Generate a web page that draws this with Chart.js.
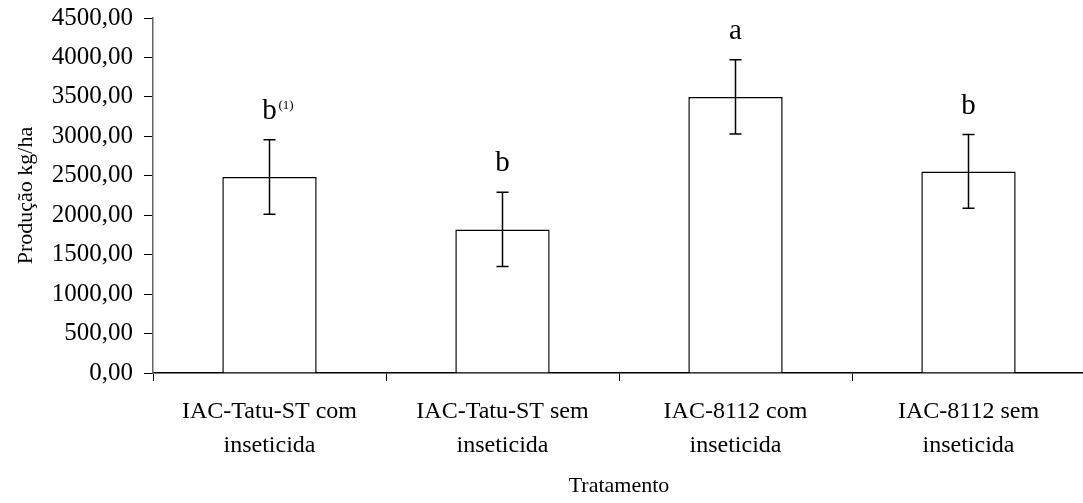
<!DOCTYPE html>
<html>
<head>
<meta charset="utf-8">
<script src="https://cdn.jsdelivr.net/npm/chart.js@4"></script>
<style>
  body { margin: 0; background: #fff; }
  #wrap { width: 1083px; height: 503px; overflow: hidden; }
</style>
</head>
<body>
<div id="wrap"><canvas id="grafico" width="1085" height="503"></canvas></div>
<script>
const tratamentos = [
    ['IAC-Tatu-ST com', 'inseticida'],
    ['IAC-Tatu-ST sem', 'inseticida'],
    ['IAC-8112 com', 'inseticida'],
    ['IAC-8112 sem', 'inseticida']
];
const producao = [2485, 1820, 3500, 2555];
const erro = [473, 471, 471, 467];
const letras = ['b', 'b', 'a', 'b'];
const notas = ['(1)', '', '', ''];
const fonte = "'Liberation Serif', 'Times New Roman', serif";

// barras de erro + letras do teste
const barrasErro = {
    id: 'barrasErro',
    afterDatasetsDraw(chart) {
        const ctx = chart.ctx;
        const y = chart.scales.y;
        const barras = chart.getDatasetMeta(0).data;
        ctx.save();
        ctx.strokeStyle = '#000';
        ctx.lineWidth = 1.5;
        barras.forEach((barra, i) => {
            const x = barra.x;
            const topo = y.getPixelForValue(producao[i] + erro[i]);
            const base = y.getPixelForValue(producao[i] - erro[i]);
            ctx.beginPath();
            ctx.moveTo(x, topo); ctx.lineTo(x, base);
            ctx.moveTo(x - 6, topo); ctx.lineTo(x + 6, topo);
            ctx.moveTo(x - 6, base); ctx.lineTo(x + 6, base);
            ctx.stroke();

            ctx.fillStyle = '#000';
            ctx.font = '29px ' + fonte;
            ctx.textBaseline = 'alphabetic';
            ctx.textAlign = 'center';
            ctx.fillText(letras[i], x, topo - 21);
            if (notas[i]) {
                ctx.font = '13px ' + fonte;
                ctx.textAlign = 'left';
                ctx.fillText(notas[i], x + 9, topo - 31);
            }
        });
        ctx.restore();
    }
};

new Chart(document.getElementById('grafico'), {
    type: 'bar',
    data: {
        labels: tratamentos,
        datasets: [{
            data: producao,
            backgroundColor: '#fff',
            borderColor: '#000',
            borderWidth: 1.5,
            categoryPercentage: 1,
            barPercentage: 0.405
        }]
    },
    options: {
        responsive: false,
        animation: false,
        devicePixelRatio: 1,
        layout: { padding: { top: 18, right: 0, left: 0, bottom: 0 } },
        plugins: {
            legend: { display: false },
            tooltip: { enabled: false }
        },
        scales: {
            x: {
                grid: { drawOnChartArea: false, tickLength: 8, color: '#000', offset: true },
                border: { color: '#000', width: 1.5 },
                ticks: {
                    color: '#000',
                    font: { family: fonte, size: 24, lineHeight: 1.42 },
                    padding: 14,
                    maxRotation: 0,
                    autoSkip: false
                },
                title: {
                    display: true,
                    text: 'Tratamento',
                    color: '#000',
                    font: { family: fonte, size: 22 },
                    padding: { top: 0, bottom: 4 }
                },
                afterFit(s) { s.height = 130; }
            },
            y: {
                min: 0,
                max: 4500,
                ticks: {
                    stepSize: 500,
                    color: '#000',
                    font: { family: fonte, size: 25 },
                    padding: 11,
                    callback: v => v.toFixed(2).replace('.', ',')
                },
                grid: { drawOnChartArea: false, tickLength: 9, color: '#000' },
                border: { color: '#666', width: 1.5 },
                title: {
                    display: true,
                    text: 'Produção kg/ha',
                    color: '#000',
                    font: { family: fonte, size: 22 },
                    padding: { top: 13, bottom: 0 }
                },
                afterFit(s) {
                    s.width = 153;
                    s.paddingTop = 0;
                    s.paddingBottom = 0;
                }
            }
        }
    },
    plugins: [barrasErro]
});
</script>
</body>
</html>
